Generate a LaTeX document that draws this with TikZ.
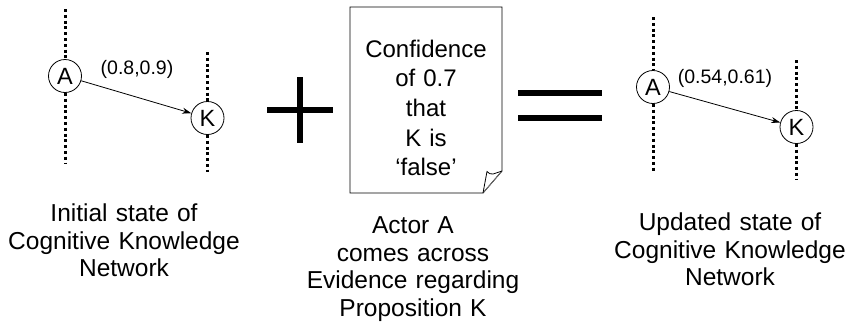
\documentclass[tikz,border=0pt]{standalone}
\usepackage{fontspec}
\setmainfont{Liberation Sans}
\usetikzlibrary{arrows.meta}
\begin{document}
\begin{tikzpicture}[x=1pt,y=-1pt,
  circ/.style={draw,circle,line width=0.8pt,minimum size=33pt,inner sep=0pt,font=\fontsize{23.5}{24}\selectfont},
  dots/.style={line width=3pt,dash pattern=on 3pt off 2.8pt},
  link/.style={line width=0.8pt,-{Stealth[length=9pt,width=6pt]}},
  wlabel/.style={font=\fontsize{19.5}{22}\selectfont,anchor=base,inner sep=0pt},
  caption/.style={font=\fontsize{24.5}{27.7}\selectfont,text width=260pt,align=center,anchor=base,inner sep=0pt},
  bar/.style={fill=black,draw=none}]
\useasboundingbox (0,0) rectangle (846,330);
% left network
\node[circ] (A1) at (65,76) {A};
\node[circ] (K1) at (207.5,118) {K};
\coordinate (a1t) at (65,9); \coordinate (a1b) at (65,163);
\coordinate (k1t) at (207.5,52); \coordinate (k1b) at (207.5,172);
\draw[dots] (a1t) -- (A1.north);
\draw[dots] (A1.south) -- (a1b);
\draw[dots] (k1t) -- (K1.north);
\draw[dots] (K1.south) -- (k1b);
\draw[link] (A1) -- (K1);
\node[wlabel] (L1) at (137,74) {(0.8,0.9)};
% plus
\fill[bar] (297,77) rectangle (303,143);
\fill[bar] (267,107) rectangle (333,113);
% document
\coordinate (d1) at (350,7); \coordinate (d2) at (502,7);
\coordinate (d3) at (502,171); \coordinate (d4) at (483,193);
\coordinate (d5) at (350,193);
\draw[line width=0.9pt] (d1) -- (d2) -- (d3) -- (d4) -- (d5) -- cycle;
\draw[gray,line width=0.6pt] (d4) -- (d3);
\draw[line width=0.8pt] (d4) -- (487,171.5) .. controls (490,174) .. (493,174) -- (d3);
\node[font=\fontsize{24}{29.7}\selectfont,text width=150pt,align=center,anchor=base,inner sep=0pt] (doc) at (426,57) {Confidence\\of 0.7\\that\\K is\\‘false’};
% equals
\fill[bar] (518,90) rectangle (602,96);
\fill[bar] (518,115) rectangle (602,121);
% right network
\node[circ] (A2) at (653,87) {A};
\node[circ] (K2) at (796.5,127) {K};
\coordinate (a2t) at (653,17); \coordinate (a2b) at (653,172);
\coordinate (k2t) at (796.5,60); \coordinate (k2b) at (796.5,180);
\draw[dots] (a2t) -- (A2.north);
\draw[dots] (A2.south) -- (a2b);
\draw[dots] (k2t) -- (K2.north);
\draw[dots] (K2.south) -- (k2b);
\draw[link] (A2) -- (K2);
\node[wlabel] (L2) at (725,83) {(0.54,0.61)};
% captions
\node[caption] (c1) at (124,221.5) {Initial state of\\Cognitive Knowledge\\Network};
\node[caption] (c2) at (413,233.5) {Actor A\\comes across\\Evidence regarding\\Proposition K};
\node[caption] (c3) at (730,230.5) {Updated state of\\Cognitive Knowledge\\Network};
\end{tikzpicture}
\end{document}
